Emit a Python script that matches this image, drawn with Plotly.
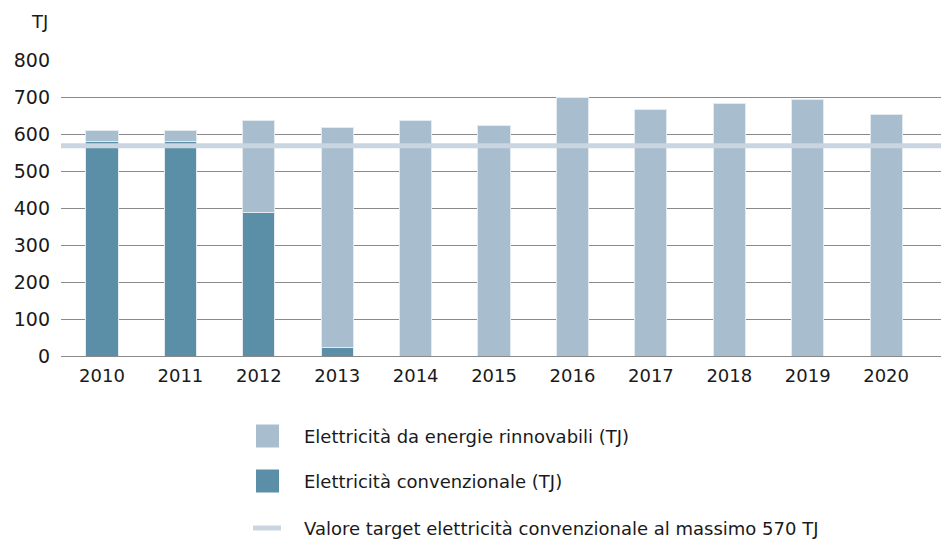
import plotly.graph_objects as go

years = ["2010", "2011", "2012", "2013", "2014", "2015", "2016", "2017", "2018", "2019", "2020"]
conventional = [580, 580, 390, 23, 0, 0, 0, 0, 0, 0, 0]
renewable = [32, 32, 247, 597, 637, 625, 700, 668, 684, 696, 653]
target = 570
y_ticks = [0, 100, 200, 300, 400, 500, 600, 700, 800]

name_ren = "Elettricità da energie rinnovabili (TJ)"
name_conv = "Elettricità convenzionale (TJ)"
name_target = "Valore target elettricità convenzionale al massimo 570 TJ"

c_conv = "#5b8fa8"
c_ren = "#a8bdcd"
c_target = "#c9d6e2"
c_text = "#1a1a1a"
font_family = "DejaVu Sans, sans-serif"

W, H = 941, 540
L, R, T, B = 61, 0, 60, 184
PW, PH = W - L - R, H - T - B


def px(x):
    return (x - L) / PW


def py(y):
    return (H - B - y) / PH


fig = go.Figure()
fig.add_trace(go.Bar(x=years, y=conventional, marker=dict(color=c_conv, line=dict(color="#e3eaf0", width=1)),
                     width=0.41, showlegend=False, name=name_conv))
fig.add_trace(go.Bar(x=years, y=renewable, marker=dict(color=c_ren, line=dict(color="#e3eaf0", width=1)),
                     width=0.41, showlegend=False, name=name_ren))
fig.add_trace(go.Scatter(x=[0, 1], y=[target, target], mode="lines", name=name_target, showlegend=False,
                         xaxis="x2", line=dict(color=c_target, width=5)))

# manual legend (bigger symbols than plotly's capped legend markers)
legend_items = [
    (name_ren, c_ren, "square", 436),
    (name_conv, c_conv, "square", 481),
    (name_target, c_target, "line", 528),
]
shapes = []
annotations = []
for name, col, kind, yc in legend_items:
    if kind == "square":
        shapes.append(dict(type="rect", xref="paper", yref="paper", x0=px(256), x1=px(279),
                           y0=py(yc - 11.5), y1=py(yc + 11.5), fillcolor=col, line=dict(width=0)))
    else:
        shapes.append(dict(type="rect", xref="paper", yref="paper", x0=px(253), x1=px(281),
                           y0=py(yc - 2.5), y1=py(yc + 2.5), fillcolor=col, line=dict(width=0)))
    annotations.append(dict(text=name, xref="paper", yref="paper", x=px(302), y=py(yc),
                            xanchor="left", yanchor="middle", showarrow=False,
                            font=dict(size=18, color=c_text)))

annotations.append(dict(text="TJ", xref="paper", yref="paper", x=0, y=1, xshift=-11, yshift=39,
                        xanchor="right", yanchor="middle", showarrow=False, font=dict(size=18, color=c_text)))

fig.update_layout(
    width=W, height=H,
    margin=dict(l=L, r=R, t=T, b=B, autoexpand=False),
    paper_bgcolor="white", plot_bgcolor="white",
    barmode="stack",
    showlegend=False,
    font=dict(family=font_family, size=17, color=c_text),
    xaxis=dict(type="category", range=[-0.523, 10.70], showgrid=False, zeroline=False,
               showline=False, ticks="", tickfont=dict(size=18), tickangle=0, automargin=False,
               ticklabelstandoff=7),
    xaxis2=dict(overlaying="x", range=[0, 1], visible=False, showgrid=False),
    yaxis=dict(range=[0, 802], tickvals=y_ticks,
               showgrid=True, gridcolor="#8a8a8a", gridwidth=1,
               zeroline=True, zerolinecolor="#8a8a8a", zerolinewidth=1, showline=False,
               ticks="", ticklabelstandoff=10, tickfont=dict(size=19), automargin=False),
    shapes=shapes,
    annotations=annotations,
)

fig.write_html("out.html", config={"displayModeBar": False},
               post_script="document.body.style.margin='0';document.body.style.overflow='hidden';")
